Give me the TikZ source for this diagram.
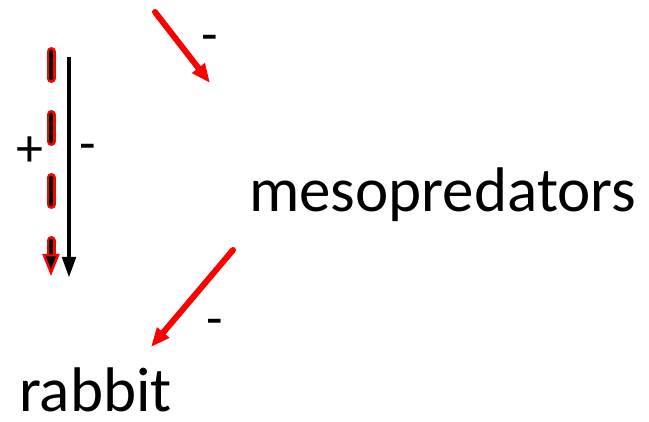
\documentclass[tikz,border=0pt]{standalone}
\usepackage{fontspec}
\setmainfont{Carlito}
\usepackage{tikz}
\usetikzlibrary{arrows.meta,calc}

\begin{document}
\begin{tikzpicture}[x=1pt, y=-1pt,
		species/.style={inner sep=0pt, anchor=base west, font=\fontsize{63}{70}\selectfont},
		sign/.style={inner sep=0pt, font=\fontsize{54}{58}\selectfont},
		effect/.style={red, line width=6pt, line cap=round, -{Triangle[length=19pt, width=15pt]}}]
		\useasboundingbox (0,0) rectangle (649,422);

		% species
		\node[species] (meso) at (249,212) {mesopredators};
		\node[species] (rabbit) at (19,412) {rabbit};

		% loose ends of the arrows
		\coordinate (topA) at (155,12);
		\coordinate (topB) at (210,83);
		\coordinate (mesoA) at (233,250);
		\coordinate (mesoB) at (151,347);
		\coordinate (solidA) at (69,57);
		\coordinate (solidB) at (69,278);
		\coordinate (dashA) at (51,51.5);
		\coordinate (dashB) at (51,276);

		% red effects
		\draw[effect] (topA) -- (topB);
		\draw[effect] (mesoA) -- (mesoB);

		% direct effect
		\draw[black, line width=4.5pt, -{Triangle[length=21pt, width=13pt]}] (solidA) -- (solidB);

		% indirect effect, black dashes with red outline
		\draw[red, line width=9pt, line cap=round, dash pattern=on 27pt off 36pt,
			-{Triangle[length=22pt, width=17pt, line width=2.5pt, fill=black]}] (dashA) -- (dashB);
		\draw[black, line width=3.5pt, line cap=round, dash pattern=on 27pt off 36pt,
			shorten >=23pt] (dashA) -- (dashB);

		% signs
		\node[sign] (plus) at (30,152) {+};
		\node[sign] (minSolid) at (88,153) {-};
		\node[sign] (minTop) at (210,44) {-};
		\node[sign] (minMeso) at (215,328) {-};
	\end{tikzpicture}
\end{document}
